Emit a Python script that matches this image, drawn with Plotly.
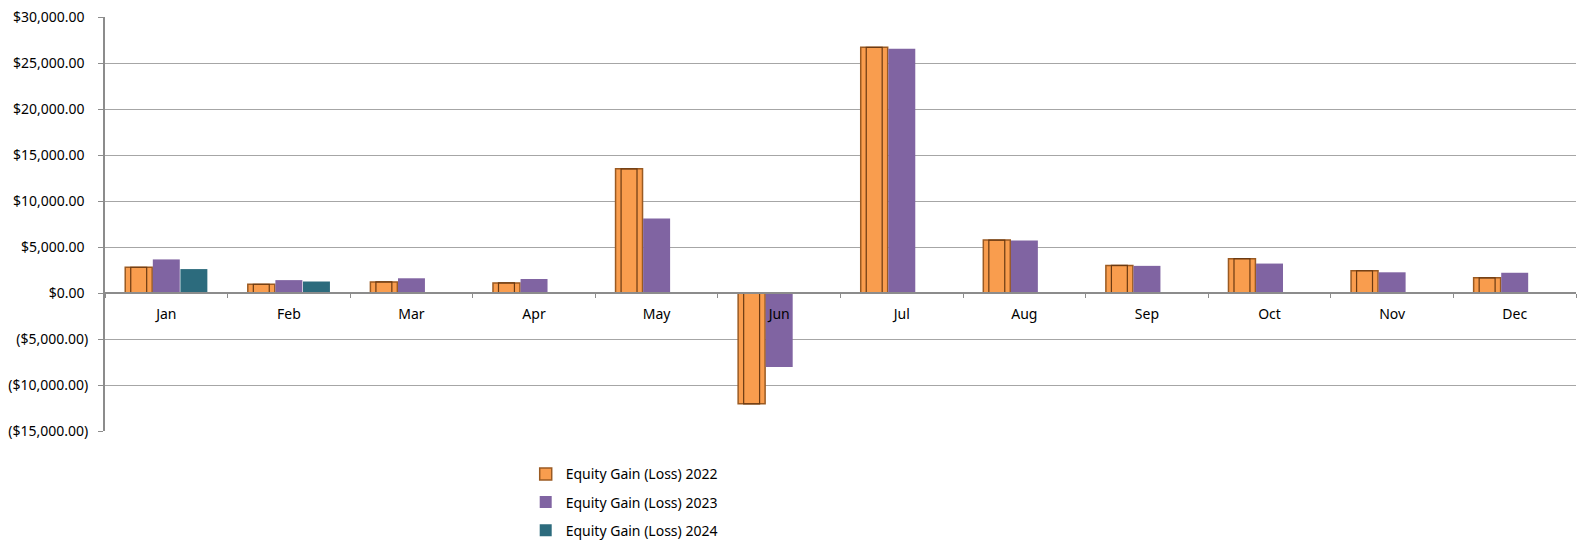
import plotly.graph_objects as go

months = ["Jan", "Feb", "Mar", "Apr", "May", "Jun", "Jul", "Aug", "Sep", "Oct", "Nov", "Dec"]
gain_2022 = [2800, 950, 1200, 1100, 13500, -12050, 26700, 5750, 3000, 3730, 2420, 1650]
gain_2023 = [3650, 1400, 1600, 1520, 8100, -8050, 26550, 5700, 2950, 3200, 2250, 2200]
gain_2024 = [2600, 1250, None, None, None, None, None, None, None, None, None, None]
series_names = ["Equity Gain (Loss) 2022", "Equity Gain (Loss) 2023", "Equity Gain (Loss) 2024"]
y_ticks = [30000, 25000, 20000, 15000, 10000, 5000, 0, -5000, -10000, -15000]
y_tick_text = ["$30,000.00\u00a0", "$25,000.00\u00a0", "$20,000.00\u00a0", "$15,000.00\u00a0",
               "$10,000.00\u00a0", "$5,000.00\u00a0", "$0.00\u00a0", "($5,000.00)",
               "($10,000.00)", "($15,000.00)"]

font_family = "Noto Sans"
bar_w = 0.22

fig = go.Figure()
fig.add_trace(go.Bar(x=months, y=gain_2022, name=series_names[0], legendgroup="a",
                     width=bar_w, offset=-0.335,
                     marker=dict(color="#F99D4E", line=dict(color="#9A5A22", width=1.5))))
fig.add_trace(go.Bar(x=months, y=gain_2022, showlegend=False, hoverinfo="skip",
                     width=0.13, offset=-0.29,
                     marker=dict(color="rgba(0,0,0,0)", line=dict(color="#6B3A12", width=1.2))))
fig.add_trace(go.Bar(x=months, y=gain_2023, name=series_names[1], legendgroup="b",
                     width=bar_w, offset=-0.11,
                     marker=dict(color="#8064A2", line=dict(width=0))))
fig.add_trace(go.Bar(x=months, y=gain_2024, name=series_names[2], legendgroup="c",
                     width=bar_w, offset=0.115,
                     marker=dict(color="#2C6B7D", line=dict(width=0))))

fig.update_layout(
    width=1581, height=545,
    margin=dict(l=105, r=5, t=17, b=114, autoexpand=False),
    paper_bgcolor="white", plot_bgcolor="white",
    barmode="overlay",
    font=dict(family=font_family, size=14, color="#000000"),
    showlegend=True,
    legend=dict(x=0.286, y=-0.066, xanchor="left", yanchor="top",
                orientation="v", traceorder="grouped", tracegroupgap=7,
                font=dict(size=14, family=font_family, color="#000000"),
                itemwidth=30),
    xaxis=dict(
        type="category", categoryorder="array", categoryarray=months,
        range=[-0.5, 11.5],
        anchor="free", position=1/3,
        showline=True, linecolor="#8C8C8C", linewidth=2,
        ticks="outside", tickson="boundaries", ticklen=4, tickcolor="#8C8C8C",
        tickfont=dict(size=14, family=font_family),
        ticklabelstandoff=8,
        showgrid=False, zeroline=False,
    ),
    yaxis=dict(
        range=[-15000, 30000],
        tickvals=y_ticks, ticktext=y_tick_text,
        showline=True, linecolor="#8C8C8C", linewidth=2,
        ticks="outside", ticklen=5, tickcolor="#8C8C8C",
        ticklabelstandoff=7,
        showgrid=True, gridcolor="#A6A6A6", gridwidth=1,
        zeroline=False,
        tickfont=dict(size=14, family=font_family),
    ),
)

fig.write_html("out.html")
